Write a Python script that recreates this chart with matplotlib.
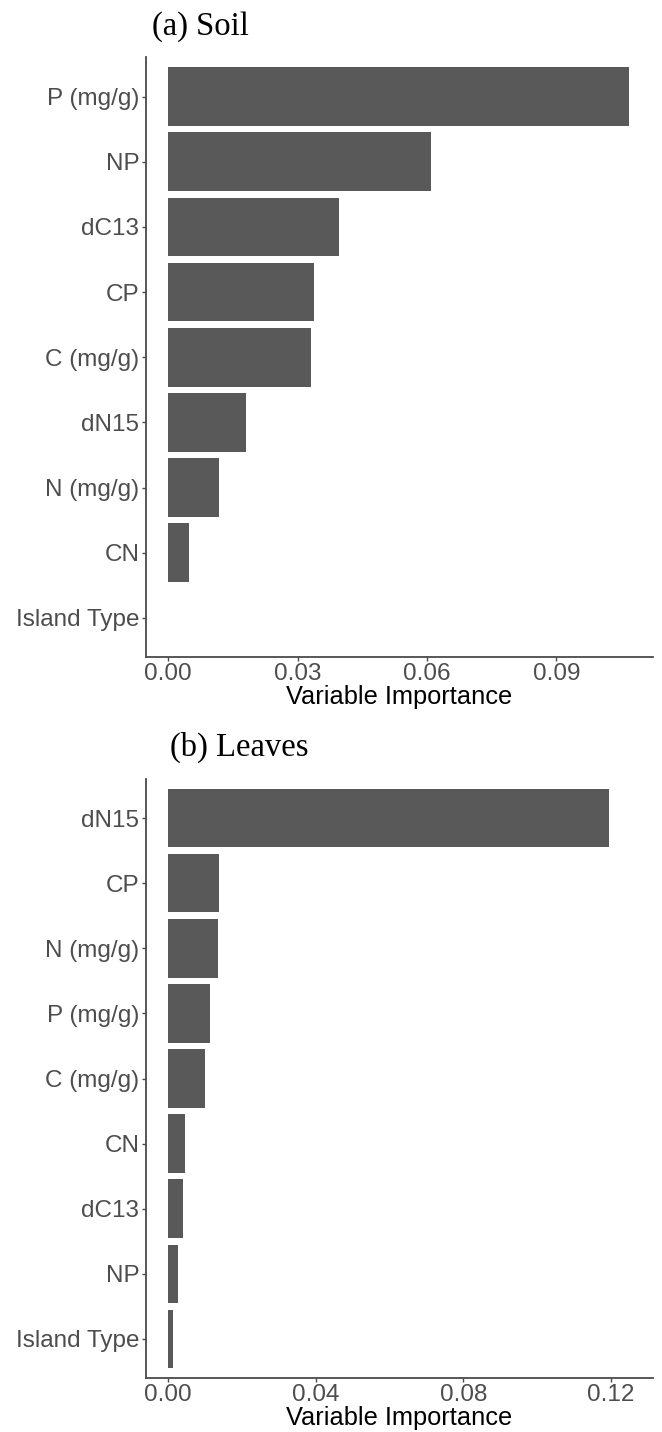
import matplotlib
matplotlib.use("Agg")
import matplotlib.pyplot as plt

# variable importance, listed top to bottom as plotted
soil_vars = ["P (mg/g)", "NP", "dC13", "CP", "C (mg/g)", "dN15", "N (mg/g)", "CN", "Island Type"]
soil_imp = [0.1068, 0.0610, 0.0396, 0.0338, 0.0332, 0.0181, 0.0118, 0.0047, 0.0]
soil_ticks = [0.00, 0.03, 0.06, 0.09]

leaf_vars = ["dN15", "CP", "N (mg/g)", "P (mg/g)", "C (mg/g)", "CN", "dC13", "NP", "Island Type"]
leaf_imp = [0.1196, 0.0138, 0.0136, 0.0113, 0.0099, 0.0046, 0.0039, 0.0027, 0.0014]
leaf_ticks = [0.00, 0.04, 0.08, 0.12]

W, H = 662, 1432
BAR = "#595959"
AXIS = "#4a4a4a"
TICKTXT = "#4d4d4d"

fig = plt.figure(figsize=(W / 100, H / 100), dpi=100)
fig.patch.set_facecolor("white")


def px_axes(left, top, right, bottom):
    return fig.add_axes([left / W, 1 - bottom / H, (right - left) / W, (bottom - top) / H])


def importance_panel(ax, names, vals, ticks, xlim):
    pos = list(range(len(names)))
    ax.barh(pos, vals, height=0.9, color=BAR, edgecolor="none")
    ax.set_ylim(len(names) - 0.4, -0.6)
    ax.set_xlim(*xlim)
    ax.set_yticks(pos)
    ax.set_yticklabels(names, family="Liberation Sans", fontsize=17.5, color=TICKTXT)
    ax.set_xticks(ticks)
    ax.set_xticklabels([f"{t:.2f}" for t in ticks], family="Liberation Sans",
                       fontsize=17.5, color=TICKTXT)
    ax.set_xlabel("Variable Importance", family="Liberation Sans", fontsize=18.3,
                  color="black", labelpad=0)
    for side in ["top", "right"]:
        ax.spines[side].set_visible(False)
    for side in ["left", "bottom"]:
        ax.spines[side].set_color(AXIS)
        ax.spines[side].set_linewidth(1.3)
    ax.tick_params(length=3, width=1, color=AXIS, pad=1.5)


ax1 = px_axes(145.7, 57.5, 653, 657)
importance_panel(ax1, soil_vars, soil_imp, soil_ticks, (-0.00524, 0.11238))
fig.text(152 / W, 1 - 27 / H, "(a) Soil", family="Liberation Serif", fontsize=23.5,
         ha="left", va="center")

ax2 = px_axes(145.7, 779, 653, 1378)
importance_panel(ax2, leaf_vars, leaf_imp, leaf_ticks, (-0.00613, 0.13146))
fig.text(170 / W, 1 - 747 / H, "(b) Leaves", family="Liberation Serif", fontsize=23.5,
         ha="left", va="center")

fig.savefig("out.png", dpi=100)
